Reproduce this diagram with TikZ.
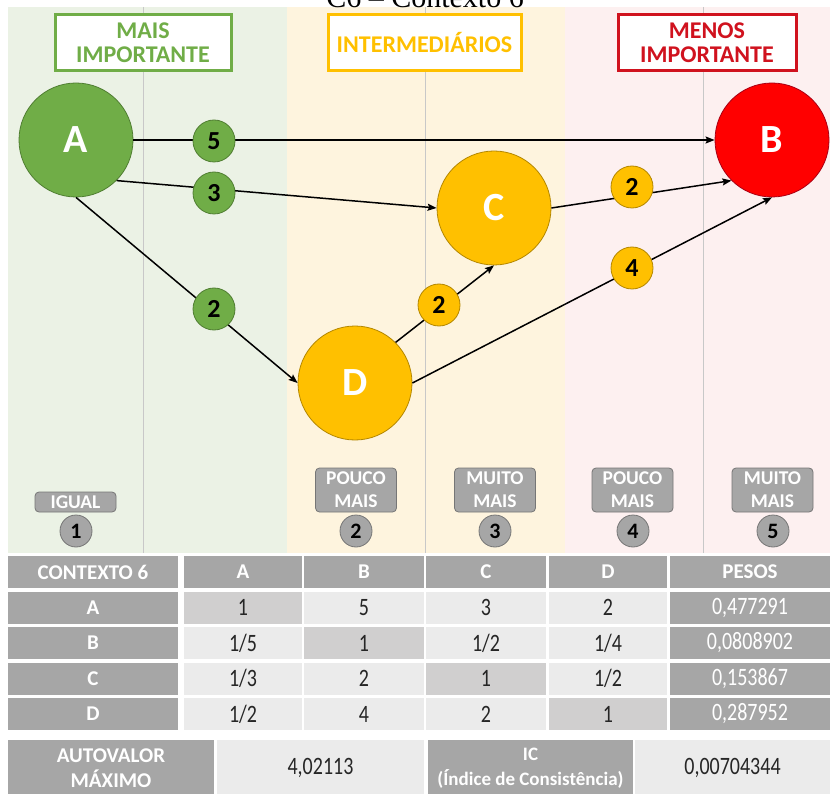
\documentclass[tikz,border=0pt]{standalone}
\usepackage{fontspec}
\setmainfont{Carlito}
\newfontfamily\titlefont{Liberation Serif}
\newfontfamily\dados{Carlito}[FakeStretch=0.8]
\usetikzlibrary{arrows.meta}

\definecolor{verde}{RGB}{112,173,71}
\definecolor{verdeesc}{RGB}{80,126,50}
\definecolor{amarelo}{RGB}{255,192,0}
\definecolor{amareloesc}{RGB}{180,135,0}
\definecolor{vermelho}{RGB}{255,0,0}
\definecolor{vermelhoesc}{RGB}{170,0,20}
\definecolor{bordavermelha}{RGB}{208,18,30}
\definecolor{fundoverde}{RGB}{235,242,229}
\definecolor{fundoamarelo}{RGB}{254,244,222}
\definecolor{fundovermelho}{RGB}{253,240,240}
\definecolor{divisa}{RGB}{200,200,200}
\definecolor{cinza}{RGB}{166,166,166}
\definecolor{cinzaesc}{RGB}{118,118,118}
\definecolor{celula}{RGB}{235,235,235}
\definecolor{celdiag}{RGB}{208,207,207}
\definecolor{texto}{RGB}{38,38,38}

\newcommand{\tam}[1]{\fontsize{#1}{#1}\selectfont}

\begin{document}
\begin{tikzpicture}[
    x=1pt, y=-1pt,
    crit/.style={circle, line width=0.8pt, minimum size=114pt, inner sep=0pt, text=white, font=\bfseries\tam{40}},
    peso/.style={circle, line width=0.8pt, minimum size=42pt, inner sep=0pt, font=\bfseries\tam{26}},
    seta/.style={line width=1.5pt, -{Stealth[length=9pt, width=7pt, inset=1.5pt]}},
    caixa/.style={draw, line width=3pt, fill=white, minimum height=56pt, inner sep=0pt, align=center, font=\bfseries\fontsize{24}{24}\selectfont},
    escala/.style={rounded corners=4pt, fill=cinza, draw=cinzaesc, line width=0.8pt, text=white, minimum width=81pt, inner sep=0pt, align=center, font=\bfseries\fontsize{19.5}{23}\selectfont},
    nivel/.style={circle, fill=cinza, draw=cinzaesc, line width=0.8pt, minimum size=32pt, inner sep=0pt, font=\bfseries\tam{22}},
    cab/.style={fill=cinza, text=white, minimum height=32pt, inner sep=0pt, font=\bfseries\tam{21}},
    cel/.style={fill=celula, text=texto, minimum height=32pt, inner sep=0pt, font=\dados\tam{25}},
    diag/.style={cel, fill=celdiag},
    res/.style={cab, font=\dados\tam{25}}
]
    \useasboundingbox (0,0) rectangle (830,794);

    % --- faixas de fundo ---
    \fill[fundoverde] (8,7) rectangle (287,553);
    \fill[fundoamarelo] (287,7) rectangle (565,553);
    \fill[fundovermelho] (565,7) rectangle (830,553);
    \draw[divisa, line width=0.8pt] (143,7) -- (143,553);
    \draw[divisa, line width=0.8pt] (425,7) -- (425,553);
    \draw[divisa, line width=0.8pt] (703,7) -- (703,553);

    % --- titulo (cortado no topo) ---
    \node[font=\titlefont\tam{30}, anchor=base, inner sep=0pt] (titulo) at (425,8) {C6 – Contexto 6};

    % --- caixas de grupo ---
    \node[caixa, draw=verde, text=verde, minimum width=176pt] (mais) at (143,43) {MAIS\\IMPORTANTE};
    \node[caixa, draw=amarelo, text=amarelo, minimum width=193pt] (inter) at (424.5,43) {INTERMEDIÁRIOS};
    \node[caixa, draw=bordavermelha, text=bordavermelha, minimum width=178pt] (menos) at (707,43) {MENOS\\IMPORTANTE};

    % --- criterios ---
    \node[crit, fill=verde, draw=verdeesc] (A) at (76,140) {A};
    \node[crit, fill=vermelho, draw=vermelhoesc] (B) at (772,140) {B};
    \node[crit, fill=amarelo, draw=amareloesc] (C) at (494,208) {C};
    \node[crit, fill=amarelo, draw=amareloesc] (D) at (355,383) {D};

    % --- comparacoes ---
    \draw[seta] (A.east) -- (B.west);
    \draw[seta] (A.-45) -- (C.west);
    \draw[seta] (A.south) -- (D.west);
    \draw[seta] (D.45) -- (C.south);
    \draw[seta] (C.east) -- (B.-135);
    \draw[seta] (D.east) -- (B.south);

    % pesos sobre as setas
    \node[peso, fill=verde, draw=verdeesc] (pAB) at (214,141) {5};
    \node[peso, fill=verde, draw=verdeesc] (pAC) at (214,193) {3};
    \node[peso, fill=verde, draw=verdeesc] (pAD) at (214,309) {2};
    \node[peso, fill=amarelo, draw=amareloesc] (pDC) at (439,305) {2};
    \node[peso, fill=amarelo, draw=amareloesc] (pCB) at (632,187) {2};
    \node[peso, fill=amarelo, draw=amareloesc] (pDB) at (632,268) {4};

    % --- escala ---
    \node[escala, minimum height=20pt] (igual) at (75.5,502) {IGUAL};
    \node[escala, minimum height=44pt] (pouco1) at (356,490) {POUCO\\MAIS};
    \node[escala, minimum height=44pt] (muito1) at (495,490) {MUITO\\MAIS};
    \node[escala, minimum height=44pt] (pouco2) at (632.5,490) {POUCO\\MAIS};
    \node[escala, minimum height=44pt] (muito2) at (772.5,490) {MUITO\\MAIS};
    \node[nivel] (n1) at (76,531) {1};
    \node[nivel] (n2) at (356,531) {2};
    \node[nivel] (n3) at (495,531) {3};
    \node[nivel] (n4) at (633,531) {4};
    \node[nivel] (n5) at (773,531) {5};

    % --- matriz de comparacao ---
    \node[cab, minimum width=170pt] (hCtx) at (93,572) {CONTEXTO 6};
    \node[cab, minimum width=118pt] (hA) at (243,572) {A};
    \node[cab, minimum width=120pt] (hB) at (364,572) {B};
    \node[cab, minimum width=120pt] (hC) at (486,572) {C};
    \node[cab, minimum width=118pt] (hD) at (608,572) {D};
    \node[cab, minimum width=160pt] (hPesos) at (750,572) {PESOS};

    \node[cab, minimum width=170pt] (lA) at (93,607.5) {A};
    \node[diag, minimum width=118pt] (mAA) at (243,607.5) {1};
    \node[cel, minimum width=120pt] (mAB) at (364,607.5) {5};
    \node[cel, minimum width=120pt] (mAC) at (486,607.5) {3};
    \node[cel, minimum width=118pt] (mAD) at (608,607.5) {2};
    \node[res, minimum width=160pt] (wA) at (750,607.5) {0,477291};

    \node[cab, minimum width=170pt] (lB) at (93,643) {B};
    \node[cel, minimum width=118pt] (mBA) at (243,643) {1/5};
    \node[diag, minimum width=120pt] (mBB) at (364,643) {1};
    \node[cel, minimum width=120pt] (mBC) at (486,643) {1/2};
    \node[cel, minimum width=118pt] (mBD) at (608,643) {1/4};
    \node[res, minimum width=160pt] (wB) at (750,643) {0,0808902};

    \node[cab, minimum width=170pt] (lC) at (93,678.5) {C};
    \node[cel, minimum width=118pt] (mCA) at (243,678.5) {1/3};
    \node[cel, minimum width=120pt] (mCB) at (364,678.5) {2};
    \node[diag, minimum width=120pt] (mCC) at (486,678.5) {1};
    \node[cel, minimum width=118pt] (mCD) at (608,678.5) {1/2};
    \node[res, minimum width=160pt] (wC) at (750,678.5) {0,153867};

    \node[cab, minimum width=170pt] (lD) at (93,714) {D};
    \node[cel, minimum width=118pt] (mDA) at (243,714) {1/2};
    \node[cel, minimum width=120pt] (mDB) at (364,714) {4};
    \node[cel, minimum width=120pt] (mDC) at (486,714) {2};
    \node[diag, minimum width=118pt] (mDD) at (608,714) {1};
    \node[res, minimum width=160pt] (wD) at (750,714) {0,287952};

    % --- autovalor e consistencia ---
    \node[cab, minimum width=206pt, minimum height=56pt, align=center, font=\bfseries\fontsize{21}{25}\selectfont] (autoval) at (111,768) {AUTOVALOR\\MÁXIMO};
    \node[cel, minimum width=207pt, minimum height=56pt] (autovalnum) at (320.5,768) {4,02113};
    \node[cab, minimum width=205pt, minimum height=56pt, align=center, font=\bfseries\fontsize{19}{25}\selectfont] (ic) at (530.5,768) {IC\\(Índice de Consistência)};
    \node[cel, minimum width=195pt, minimum height=56pt] (icnum) at (732.5,768) {0,00704344};
\end{tikzpicture}
\end{document}
